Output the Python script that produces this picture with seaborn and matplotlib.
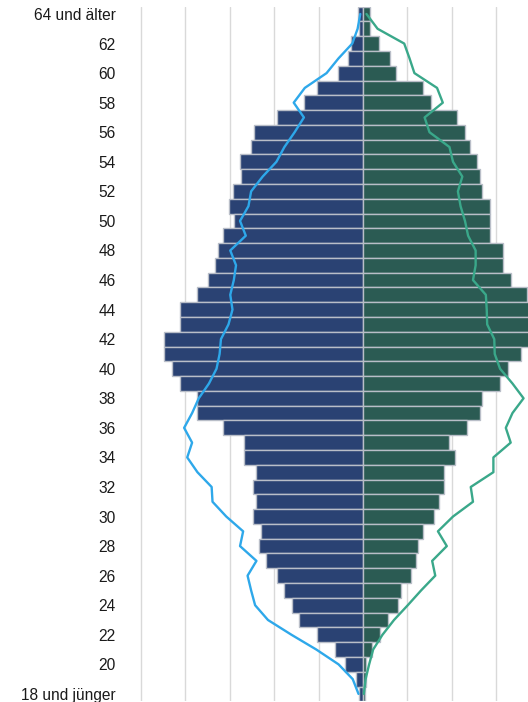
import matplotlib
matplotlib.use("Agg")
import matplotlib.pyplot as plt
import seaborn as sns
import pandas as pd
import numpy as np

# Altersgruppen von oben (64 und älter) nach unten (18 und jünger)
ages = ["64 und älter"] + [str(a) for a in range(63, 18, -1)] + ["18 und jünger"]

# linke Balken (dunkelblau), Anteil in Gitterschritten
left_bars = [0.11, 0.08, 0.27, 0.34, 0.57, 1.03, 1.32, 1.94, 2.46, 2.53,
             2.76, 2.75, 2.92, 3.02, 2.91, 3.15, 3.27, 3.33, 3.50, 3.73,
             4.13, 4.13, 4.48, 4.48, 4.30, 4.13, 3.73, 3.73, 3.16, 2.69,
             2.69, 2.41, 2.47, 2.41, 2.47, 2.30, 2.35, 2.18, 1.94, 1.77,
             1.61, 1.44, 1.03, 0.62, 0.40, 0.15, 0.10]

# rechte Balken (dunkelgrün)
right_bars = [0.17, 0.17, 0.36, 0.61, 0.75, 1.36, 1.54, 2.11, 2.30, 2.42,
              2.57, 2.64, 2.69, 2.86, 2.86, 2.86, 3.16, 3.16, 3.33, 3.70,
              3.85, 3.85, 3.80, 3.56, 3.27, 3.09, 2.69, 2.64, 2.34, 1.94,
              2.07, 1.83, 1.83, 1.71, 1.60, 1.36, 1.25, 1.20, 1.08, 0.85,
              0.80, 0.57, 0.39, 0.21, 0.08, 0.06, 0.05]

# Vergleichslinien
left_line = [0.06, 0.12, 0.24, 0.55, 0.82, 1.31, 1.56, 1.33, 1.54, 1.77,
             1.95, 2.26, 2.52, 2.58, 2.77, 2.64, 2.99, 2.86, 2.91, 2.99,
             2.94, 3.03, 3.20, 3.23, 3.30, 3.47, 3.70, 3.85, 4.03, 3.85,
             3.96, 3.73, 3.41, 3.39, 3.08, 2.70, 2.77, 2.40, 2.60, 2.52,
             2.43, 2.14, 1.61, 1.05, 0.55, 0.23, 0.10]

right_line = [0.08, 0.33, 0.93, 1.05, 1.16, 1.67, 1.80, 1.39, 1.50, 1.95,
              2.03, 2.24, 2.14, 2.20, 2.30, 2.37, 2.54, 2.54, 2.48, 2.77,
              2.79, 2.80, 2.96, 2.97, 3.09, 3.37, 3.62, 3.37, 3.22, 3.33,
              2.94, 2.94, 2.43, 2.48, 2.03, 1.69, 1.89, 1.56, 1.63, 1.31,
              1.01, 0.70, 0.44, 0.23, 0.14, 0.06, 0.02]

df = pd.DataFrame({
    "alter": ages,
    "links": -np.array(left_bars),
    "rechts": np.array(right_bars),
    "links_linie": -np.array(left_line),
    "rechts_linie": np.array(right_line),
    "pos": np.arange(len(ages)),
})

sns.set_style("white")
plt.rcParams["font.family"] = ["Liberation Sans", "DejaVu Sans"]

fig = plt.figure(figsize=(5.28, 7.02), dpi=100)
ax = fig.add_axes([0.263, 0.001, 0.737, 0.9896])

edge = "#b9bec8"
sns.barplot(data=df, x="links", y="alter", orient="h", color="#2a4273",
            saturation=1, width=1.0, edgecolor=edge, linewidth=1.0, ax=ax)
sns.barplot(data=df, x="rechts", y="alter", orient="h", color="#2b5b53",
            saturation=1, width=1.0, edgecolor=edge, linewidth=1.0, ax=ax)

sns.lineplot(data=df, x="links_linie", y="pos", orient="y", sort=False,
             estimator=None, color="#2ea8ea", lw=1.7, ax=ax)
sns.lineplot(data=df, x="rechts_linie", y="pos", orient="y", sort=False,
             estimator=None, color="#3aa88a", lw=1.7, ax=ax)

ax.set_xlim(-5.05, 3.72)
ax.set_ylim(len(ages) - 0.5, -0.5)
ax.set_xticks(range(-5, 4))
ax.xaxis.grid(True, color="#d9d9d9", lw=1.0)
ax.set_axisbelow(True)

even = [i for i in range(len(ages)) if i % 2 == 0]
ax.set_yticks(even)
ax.set_yticklabels([ages[i] for i in even], fontsize=11.2, color="#1a1a1a")
ax.tick_params(axis="y", length=0, pad=16.5)
ax.tick_params(axis="x", length=0, labelbottom=False)
ax.set_xlabel("")
ax.set_ylabel("")
for s in ax.spines.values():
    s.set_visible(False)

fig.savefig("out.png", dpi=100)
